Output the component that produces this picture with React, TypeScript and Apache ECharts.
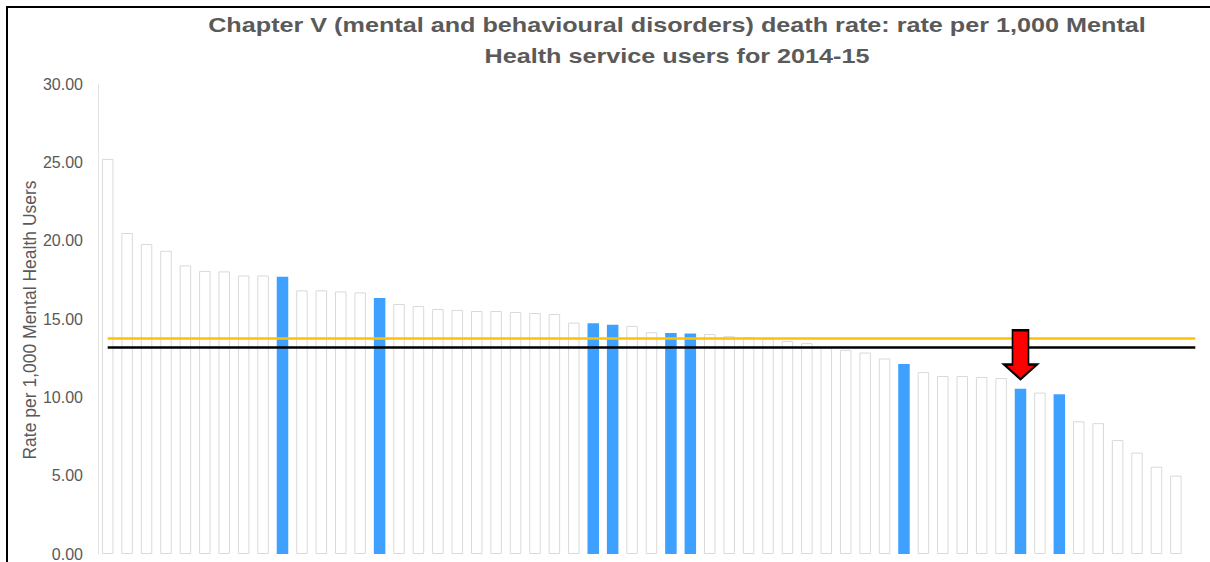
import React, { useEffect, useRef } from "react";
import * as echarts from "echarts";

// Chapter V death rate per 1,000 Mental Health service users, 2014-15, providers ranked high to low.
const rates: (number | null)[] = [
  25.22, 20.49, 19.79, 19.35, 18.42, 18.07, 18.04, 17.78, 17.78, 17.69,
  16.83, 16.83, 16.76, 16.7, 16.34, 15.96, 15.83, 15.64, 15.58, 15.51,
  15.51, 15.45, 15.38, 15.32, 14.77, 14.73, 14.64, 14.56, 14.16, 14.11,
  14.07, 14.05, 13.9, 13.85, 13.75, 13.6, 13.46, 13.2, 13.03, 12.86,
  12.48, 12.12, 11.61, 11.36, 11.36, 11.3, 11.23, 10.55, 10.3, 10.19,
  8.47, 8.35, 7.27, 6.47, 5.57, 5.0, null,
];
const providers: string[] = rates.map((_, i) => `Provider ${i + 1}`);

// Peer providers shown in blue; the arrowed one is the provider in focus.
const peerIndices: number[] = [9, 14, 25, 26, 29, 30, 41, 47, 49];
const focusIndex = 47;

// Reference rates drawn across the chart.
const nationalRate = 13.8;
const peerRate = 13.22;

const yTicks: number[] = [0, 5, 10, 15, 20, 25, 30];

const titleText =
  "Chapter V (mental and behavioural disorders) death rate: rate per 1,000 Mental\nHealth service users for 2014-15";
const yAxisTitle = "Rate per 1,000 Mental Health Users";

const FONT = "'Liberation Sans', Arial, sans-serif";
const GREY_TEXT = "#595959";
const BLUE = "#3ea0ff";

const ARROW =
  "path://M8.5,0 L24.5,0 L24.5,34 L33,34 L16.5,48.5 L0,34 L8.5,34 Z";

export default function App() {
  const ref = useRef<HTMLDivElement>(null);

  useEffect(() => {
    if (!ref.current) return;
    const chart = echarts.init(ref.current, undefined, { renderer: "svg" });

    const barData = rates.map((v, i) =>
      peerIndices.includes(i)
        ? { value: v, itemStyle: { color: BLUE, borderColor: BLUE, borderWidth: 0 } }
        : { value: v }
    );

    chart.setOption({
      animation: false,
      backgroundColor: "#ffffff",
      graphic: [
        {
          type: "text",
          x: 677,
          y: 9,
          scaleX: 1.26,
          style: {
            text: titleText,
            textAlign: "center",
            textVerticalAlign: "top",
            fill: "#5a5a5a",
            font: `bold 20px ${FONT}`,
            lineHeight: 31,
          },
        },
        {
          // vertical axis title
          type: "text",
          x: 30,
          y: 320,
          rotation: Math.PI / 2,
          style: {
            text: yAxisTitle,
            textAlign: "center",
            textVerticalAlign: "middle",
            fill: GREY_TEXT,
            font: `17.5px ${FONT}`,
          },
        },
      ],
      grid: { left: 98, top: 84, right: 5, bottom: 6, containLabel: false },
      xAxis: {
        type: "category",
        data: providers,
        axisLine: { show: false },
        axisTick: { show: false },
        axisLabel: { show: false },
        splitLine: { show: false },
      },
      yAxis: {
        type: "value",
        min: yTicks[0],
        max: yTicks[yTicks.length - 1],
        interval: 5,
        axisLine: { show: true, lineStyle: { color: "#e3e3e3", width: 1 } },
        axisTick: { show: false },
        splitLine: { show: false },
        axisLabel: {
          color: GREY_TEXT,
          fontSize: 16,
          fontFamily: FONT,
          margin: 15,
          formatter: (v: number) => v.toFixed(2),
        },
      },
      series: [
        {
          type: "bar",
          data: barData,
          barWidth: 11.5,
          itemStyle: { color: "#ffffff", borderColor: "#d9d9d9", borderWidth: 1 },
          markLine: {
            silent: true,
            symbol: "none",
            label: { show: false },
            data: [
              [
                {
                  coord: [providers[0], nationalRate],
                  lineStyle: { color: "#ffc000", width: 2.5, type: "solid" },
                },
                { coord: [providers[providers.length - 1], nationalRate] },
              ],
              [
                {
                  coord: [providers[0], peerRate],
                  lineStyle: { color: "#000000", width: 2.5, type: "solid" },
                },
                { coord: [providers[providers.length - 1], peerRate] },
              ],
            ],
          },
          markPoint: {
            silent: true,
            label: { show: false },
            data: [
              {
                coord: [providers[focusIndex], rates[focusIndex]],
                symbol: ARROW,
                symbolSize: [33, 49],
                symbolKeepAspect: false,
                symbolOffset: [0, -34],
                itemStyle: { color: "#ff0000", borderColor: "#000000", borderWidth: 2 },
              },
            ],
          },
        },
      ],
    });

    return () => chart.dispose();
  }, []);

  return (
    <>
      <div
        ref={ref}
        style={{ position: "absolute", left: 0, top: 0, width: 1210, height: 562 }}
      />
      <div
        style={{
          position: "absolute",
          left: 6,
          top: 6,
          width: 1202,
          height: 554,
          borderLeft: "2px solid #000",
          borderTop: "2px solid #000",
          pointerEvents: "none",
        }}
      />
    </>
  );
}
